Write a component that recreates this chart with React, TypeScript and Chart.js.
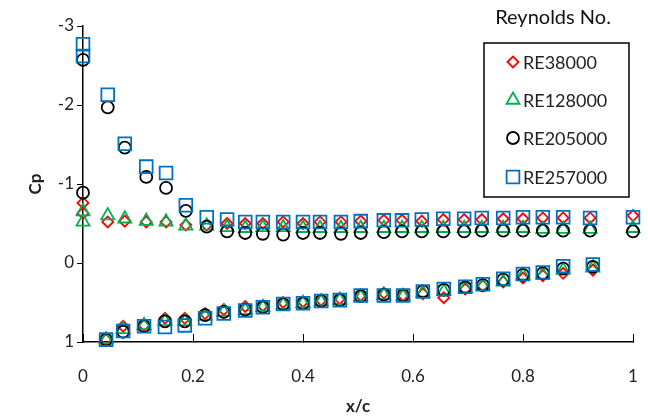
import React, { useEffect, useRef } from 'react';
import { Chart, registerables } from 'chart.js';

Chart.register(...registerables);

const seriesNames = ['RE38000', 'RE128000', 'RE205000', 'RE257000'];
const seriesColors = ['#FF0000', '#00B050', '#000000', '#0070C0'];
const pointStyles = ['rectRot', 'triangle', 'circle', 'rect'];
const pointRadii = [5.5, 7.5, 6, 9];

const xUpper = [0, 0.045, 0.076, 0.115, 0.151, 0.187, 0.225, 0.262, 0.295, 0.327, 0.364, 0.4, 0.431, 0.469, 0.505, 0.547, 0.58, 0.616, 0.655, 0.693, 0.725, 0.764, 0.8, 0.836, 0.873, 0.922, 1.0];
const xLower = [0, 0.042, 0.073, 0.111, 0.149, 0.185, 0.222, 0.256, 0.295, 0.327, 0.364, 0.4, 0.433, 0.467, 0.505, 0.547, 0.582, 0.618, 0.656, 0.695, 0.727, 0.764, 0.8, 0.836, 0.873, 0.927];

const re38000Upper = [-0.76, -0.52, -0.53, -0.52, -0.52, -0.48, -0.48, -0.5, -0.5, -0.5, -0.52, -0.5, -0.52, -0.52, -0.53, -0.54, -0.54, -0.53, -0.55, -0.55, -0.55, -0.56, -0.56, -0.57, -0.57, -0.57, -0.6];
const re128000Upper = [-0.65, -0.6, -0.56, -0.53, -0.52, -0.47, -0.47, -0.45, -0.44, -0.45, -0.45, -0.44, -0.44, -0.44, -0.44, -0.44, -0.44, -0.44, -0.44, -0.44, -0.44, -0.44, -0.44, -0.43, -0.43, -0.43, -0.44];
const re205000Upper = [-2.57, -1.97, -1.46, -1.09, -0.95, -0.66, -0.46, -0.4, -0.38, -0.37, -0.36, -0.38, -0.38, -0.37, -0.38, -0.39, -0.4, -0.4, -0.4, -0.4, -0.41, -0.41, -0.41, -0.41, -0.41, -0.41, -0.4];
const re257000Upper = [-2.77, -2.13, -1.51, -1.22, -1.14, -0.73, -0.58, -0.55, -0.52, -0.52, -0.52, -0.52, -0.52, -0.52, -0.53, -0.54, -0.54, -0.55, -0.56, -0.56, -0.57, -0.57, -0.58, -0.58, -0.58, -0.57, -0.58];

const re38000Lower = [-0.63, 0.97, 0.8, 0.79, 0.7, 0.7, 0.64, 0.59, 0.55, 0.54, 0.5, 0.49, 0.47, 0.45, 0.41, 0.38, 0.41, 0.39, 0.44, 0.33, 0.29, 0.24, 0.19, 0.16, 0.13, 0.09];
const re128000Lower = [-0.52, 0.97, 0.84, 0.79, 0.74, 0.74, 0.67, 0.62, 0.6, 0.56, 0.53, 0.51, 0.49, 0.47, 0.43, 0.41, 0.42, 0.38, 0.36, 0.32, 0.29, 0.24, 0.16, 0.15, 0.09, 0.06];
const re205000Lower = [-0.89, 0.97, 0.87, 0.8, 0.74, 0.74, 0.66, 0.62, 0.59, 0.56, 0.52, 0.51, 0.48, 0.47, 0.42, 0.4, 0.41, 0.36, 0.34, 0.31, 0.28, 0.21, 0.15, 0.13, 0.07, 0.05];
const re257000Lower = [-2.62, 0.97, 0.86, 0.8, 0.81, 0.79, 0.7, 0.64, 0.6, 0.56, 0.52, 0.51, 0.48, 0.47, 0.41, 0.41, 0.41, 0.36, 0.33, 0.3, 0.27, 0.2, 0.14, 0.12, 0.04, 0.02];

const upperSeries = [re38000Upper, re128000Upper, re205000Upper, re257000Upper];
const lowerSeries = [re38000Lower, re128000Lower, re205000Lower, re257000Lower];

const xTicks = [0, 0.2, 0.4, 0.6, 0.8, 1];
const yTicks = [-3, -2, -1, 0, 1];

const legendTitle = 'Reynolds No.';
const xTitle = 'x/c';
const yTitle = 'Cp';

const FONT = 'Lato, "Open Sans", sans-serif';

function drawMarker(ctx: CanvasRenderingContext2D, style: string, x: number, y: number, r: number) {
  ctx.beginPath();
  if (style === 'rectRot') {
    ctx.moveTo(x - r, y);
    ctx.lineTo(x, y - r);
    ctx.lineTo(x + r, y);
    ctx.lineTo(x, y + r);
    ctx.closePath();
  } else if (style === 'triangle') {
    const a = (2 * Math.PI) / 3;
    ctx.moveTo(x, y - r);
    ctx.lineTo(x + Math.sin(a) * r, y - Math.cos(a) * r);
    ctx.lineTo(x + Math.sin(2 * a) * r, y - Math.cos(2 * a) * r);
    ctx.closePath();
  } else if (style === 'circle') {
    ctx.arc(x, y, r, 0, Math.PI * 2);
  } else {
    const s = r * Math.SQRT1_2;
    ctx.rect(x - s, y - s, 2 * s, 2 * s);
  }
  ctx.stroke();
}

const legendBoxPlugin = {
  id: 'legendBox',
  afterDraw(chart: any) {
    const ctx = chart.ctx as CanvasRenderingContext2D;
    ctx.save();
    ctx.fillStyle = '#111';
    ctx.font = `20px ${FONT}`;
    ctx.textAlign = 'center';
    ctx.textBaseline = 'middle';
    ctx.fillText(legendTitle, 553, 18);
    ctx.strokeStyle = '#000';
    ctx.lineWidth = 1.5;
    ctx.strokeRect(484, 43, 145, 154);
    const rowY = [62, 100, 138, 177];
    seriesNames.forEach((name, i) => {
      ctx.strokeStyle = seriesColors[i];
      ctx.lineWidth = 1.8;
      drawMarker(ctx, pointStyles[i], 513, rowY[i], pointRadii[i]);
      ctx.fillStyle = '#222';
      ctx.font = `18px ${FONT}`;
      ctx.textAlign = 'left';
      ctx.textBaseline = 'middle';
      ctx.fillText(name, 523, rowY[i] + 1);
    });
    ctx.restore();
  },
};

export default function App() {
  const canvasRef = useRef<HTMLCanvasElement | null>(null);

  useEffect(() => {
    if (!canvasRef.current) return;
    const datasets = seriesNames.map((name, i) => {
      const data = [
        ...xUpper.map((x, j) => ({ x, y: upperSeries[i][j] })),
        ...xLower.map((x, j) => ({ x, y: lowerSeries[i][j] })),
      ];
      return {
        label: name,
        data,
        showLine: false,
        pointStyle: pointStyles[i],
        pointRadius: pointRadii[i],
        pointHoverRadius: pointRadii[i],
        pointBorderWidth: 1.8,
        borderColor: seriesColors[i],
        backgroundColor: 'rgba(0,0,0,0)',
        clip: false,
        order: 3 - i,
      };
    });

    const chart = new Chart(canvasRef.current, {
      type: 'scatter',
      data: { datasets },
      options: {
        animation: false,
        responsive: true,
        maintainAspectRatio: false,
        layout: { padding: { top: 26, right: 15, left: 0, bottom: 0 } },
        plugins: {
          legend: { display: false },
          tooltip: { enabled: false },
        },
        scales: {
          x: {
            type: 'linear',
            min: 0,
            max: 1,
            afterBuildTicks: (s: any) => {
              s.ticks = xTicks.map((v) => ({ value: v }));
            },
            afterFit: (s: any) => {
              s.height = 75;
              s.paddingLeft = 5;
              s.paddingRight = 5;
            },
            grid: {
              drawOnChartArea: false,
              drawTicks: true,
              tickLength: -8,
              color: '#000',
              lineWidth: 1,
            },
            border: { display: true, color: '#000', width: 1.5 },
            ticks: {
              color: '#222',
              font: { family: FONT, size: 17 },
              padding: 32,
              maxRotation: 0,
              callback: (v: any) => String(v),
            },
            title: {
              display: true,
              text: xTitle,
              color: '#222',
              font: { family: FONT, size: 17, weight: 'bold' },
              padding: { top: 0, bottom: 0 },
            },
          },
          y: {
            type: 'linear',
            min: -3,
            max: 1,
            reverse: true,
            afterBuildTicks: (s: any) => {
              s.ticks = yTicks.map((v) => ({ value: v }));
            },
            afterFit: (s: any) => {
              s.width = 83;
            },
            grid: {
              drawOnChartArea: false,
              drawTicks: true,
              tickLength: 6,
              color: '#000',
              lineWidth: 1,
            },
            border: { display: true, color: '#000', width: 1.5 },
            ticks: {
              color: '#222',
              font: { family: FONT, size: 17 },
              padding: 3,
              callback: (v: any) => String(v),
            },
            title: {
              display: true,
              text: yTitle,
              color: '#222',
              font: { family: FONT, size: 17, weight: 'bold' },
              padding: { top: 25, bottom: 0 },
            },
          },
        },
      },
      plugins: [legendBoxPlugin],
    } as any);

    return () => chart.destroy();
  }, []);

  return (
    <div style={{ position: 'fixed', left: 0, top: 0, width: 648, height: 417, background: '#fff' }}>
      <canvas ref={canvasRef} />
    </div>
  );
}
